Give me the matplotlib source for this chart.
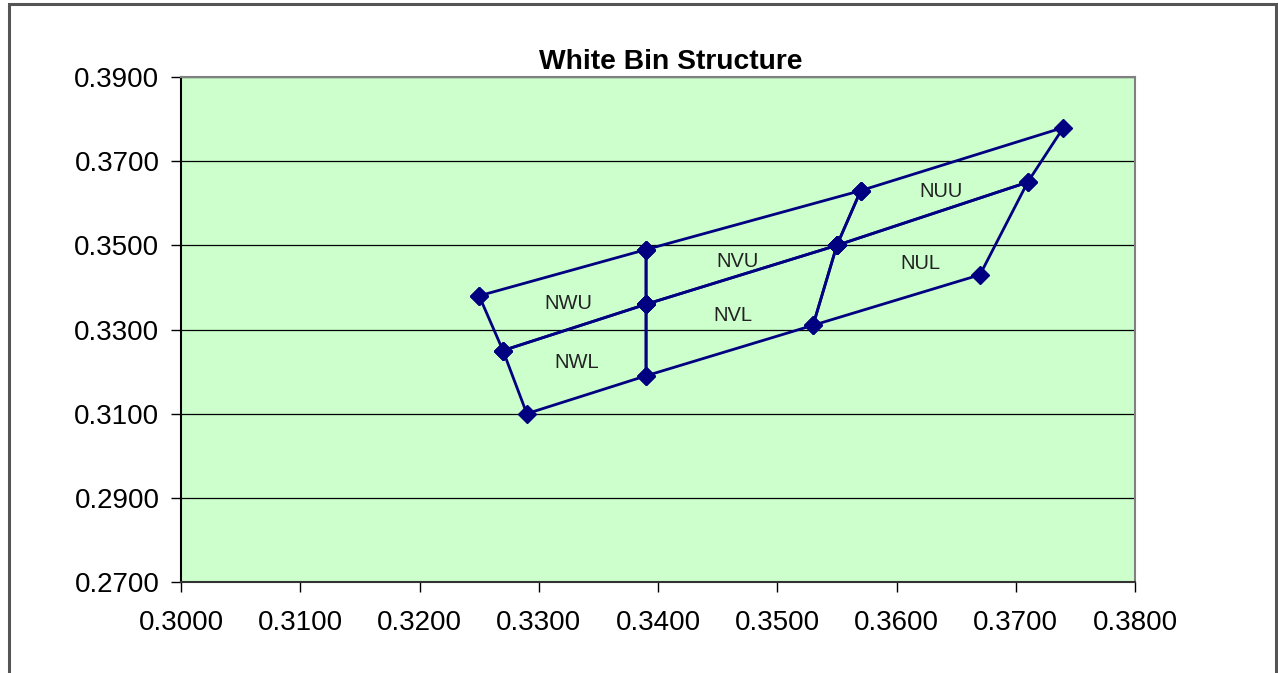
import matplotlib
matplotlib.use("Agg")
import matplotlib.pyplot as plt
from matplotlib.patches import Rectangle

plt.rcParams['font.family'] = ['Liberation Sans', 'DejaVu Sans']

bins = ["NWU", "NWL", "NVU", "NVL", "NUU", "NUL"]
bin_x = {
    "NWU": [0.325, 0.339, 0.339, 0.327, 0.325],
    "NWL": [0.327, 0.339, 0.339, 0.329, 0.327],
    "NVU": [0.339, 0.357, 0.355, 0.339, 0.339],
    "NVL": [0.339, 0.355, 0.353, 0.339, 0.339],
    "NUU": [0.357, 0.374, 0.371, 0.355, 0.357],
    "NUL": [0.355, 0.371, 0.367, 0.353, 0.355],
}
bin_y = {
    "NWU": [0.338, 0.349, 0.336, 0.325, 0.338],
    "NWL": [0.325, 0.336, 0.319, 0.310, 0.325],
    "NVU": [0.349, 0.363, 0.350, 0.336, 0.349],
    "NVL": [0.336, 0.350, 0.331, 0.319, 0.336],
    "NUU": [0.363, 0.378, 0.365, 0.350, 0.363],
    "NUL": [0.350, 0.365, 0.343, 0.331, 0.350],
}
label_x = [0.3325, 0.3332, 0.3467, 0.3463, 0.3637, 0.3620]
label_y = [0.3362, 0.3222, 0.3461, 0.3334, 0.3628, 0.3457]

xticks = [0.30, 0.31, 0.32, 0.33, 0.34, 0.35, 0.36, 0.37, 0.38]
yticks = [0.27, 0.29, 0.31, 0.33, 0.35, 0.37, 0.39]

fig = plt.figure(figsize=(12.78, 6.73), dpi=100)
ax = fig.add_axes([181/1278, 1 - 582/673, (1135-181)/1278, (582-77)/673])
ax.set_facecolor('#CCFFCC')

for b in bins:
    ax.plot(bin_x[b], bin_y[b], color='#000080', lw=2, marker='D', ms=9,
            markerfacecolor='#000080', markeredgecolor='#000080', zorder=3)

for b, lx, ly in zip(bins, label_x, label_y):
    ax.text(lx, ly, b, fontsize=14.5, color='#222222', ha='center', va='center', zorder=4)

ax.set_xlim(0.30, 0.38)
ax.set_ylim(0.27, 0.39)
ax.set_xticks(xticks)
ax.set_yticks(yticks)
ax.set_xticklabels([f"{v:.4f}" for v in xticks])
ax.set_yticklabels([f"{v:.4f}" for v in yticks])
ax.tick_params(direction='out', length=7, width=1, labelsize=20, colors='#000000')
ax.tick_params(axis='y', pad=8.5)
ax.tick_params(axis='x', pad=13)
ax.yaxis.grid(True, color='#000000', lw=0.9)
ax.set_axisbelow(True)
ax.spines['top'].set_color('#808080')
ax.spines['right'].set_color('#808080')
ax.spines['left'].set_color('#000000')
ax.spines['bottom'].set_color('#333333')
for s in ax.spines.values():
    s.set_linewidth(1.5)

ax.set_title("White Bin Structure", fontsize=20.3, fontweight='bold', pad=6,
             x=(671 - 181) / (1135 - 181))

fig.patches.append(Rectangle((9/1278, -0.05), (1276-9)/1278, 1 - 4/673 + 0.05,
                             transform=fig.transFigure, fill=False,
                             edgecolor='#555555', lw=2.2, zorder=10))

fig.savefig("out.png", dpi=100)
